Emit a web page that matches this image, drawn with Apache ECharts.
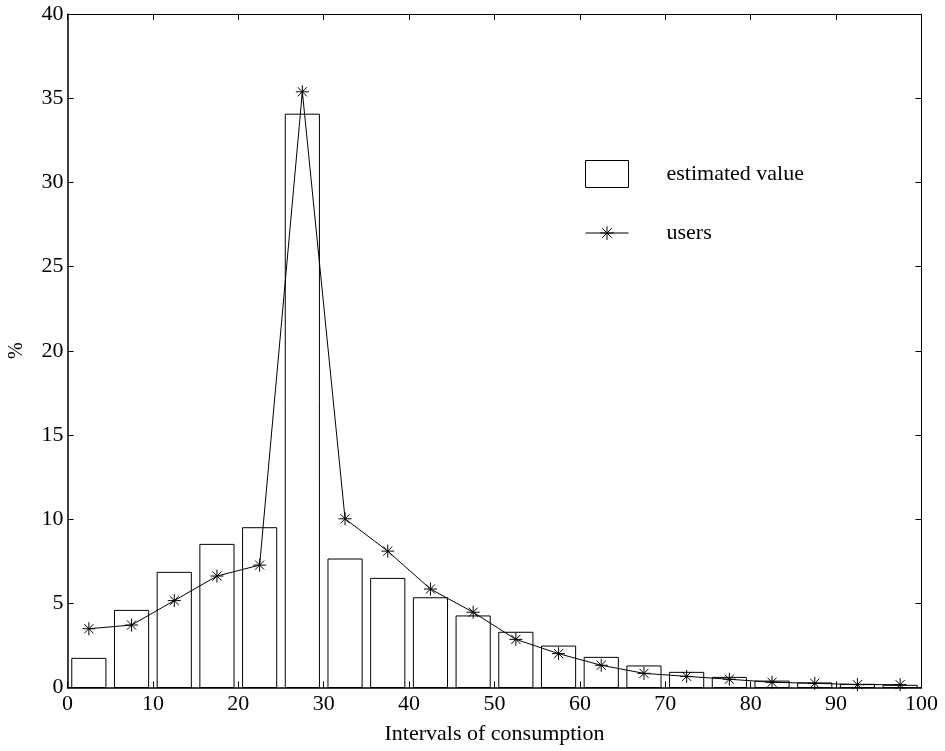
<!DOCTYPE html>
<html>
<head>
<meta charset="utf-8">
<script src="https://cdn.jsdelivr.net/npm/echarts@6/dist/echarts.min.js"></script>
<style>
html,body{margin:0;padding:0;background:#fff;}
#main{width:945px;height:751px;}
</style>
</head>
<body>
<div id="main"></div>
<script>
// bin centres of the consumption intervals
var binCenters = [2.5, 7.5, 12.5, 17.5, 22.5, 27.5, 32.5, 37.5, 42.5, 47.5,
                  52.5, 57.5, 62.5, 67.5, 72.5, 77.5, 82.5, 87.5, 92.5, 97.5];
var estimated = [1.73, 4.58, 6.84, 8.50, 9.49, 34.05, 7.63, 6.48, 5.33, 4.25,
                 3.28, 2.46, 1.79, 1.28, 0.90, 0.60, 0.38, 0.27, 0.19, 0.13];
var users = [3.49, 3.71, 5.16, 6.62, 7.27, 35.38, 10.02, 8.10, 5.85, 4.47,
             2.86, 2.01, 1.32, 0.84, 0.66, 0.49, 0.31, 0.25, 0.17, 0.17];
var barWidthUnits = 4;

var star = 'path://M0,-6L0,6M-6,0L6,0M-4.2,-4.2L4.2,4.2M-4.2,4.2L4.2,-4.2';
var font = 'Liberation Serif';

var barData = [], lineData = [];
for (var i = 0; i < binCenters.length; i++) {
  barData.push([binCenters[i], estimated[i]]);
  lineData.push([binCenters[i], users[i]]);
}

var chart = echarts.init(document.getElementById('main'));
var tickCommon = {inside: true, length: 6, lineStyle: {color: '#000', width: 1}};
var option = {
  backgroundColor: '#fff',
  animation: false,
  grid: {left: 67.5, right: 23.5, top: 14, bottom: 63.5, containLabel: false, outerBoundsMode: 'none'},
  legend: [{
    data: [{name: 'estimated value', icon: 'rect',
            itemStyle: {color: '#fff', borderColor: '#000', borderWidth: 1}}],
    left: 580, top: 155,
    itemWidth: 43, itemHeight: 27,
    textStyle: {fontFamily: font, fontSize: 22, color: '#000', padding: [0, 0, 0, 33]},
    selectedMode: false
  }, {
    data: [{name: 'users',
            itemStyle: {color: 'none', borderColor: '#000', borderWidth: 1},
            lineStyle: {color: '#000', width: 1}}],
    left: 580, top: 217,
    itemWidth: 43, itemHeight: 17,
    textStyle: {fontFamily: font, fontSize: 22, color: '#000', padding: [0, 0, 0, 33]},
    selectedMode: false
  }],
  xAxis: [{
    type: 'value', min: 0, max: 100, interval: 10, position: 'bottom',
    name: 'Intervals of consumption', nameLocation: 'middle', nameGap: 36,
    nameTextStyle: {fontFamily: font, fontSize: 22, color: '#000'},
    axisLine: {onZero: false, lineStyle: {color: '#000', width: 1.5}},
    axisTick: tickCommon,
    axisLabel: {fontFamily: font, fontSize: 22, color: '#000', margin: 6},
    splitLine: {show: false}
  }, {
    type: 'value', min: 0, max: 100, interval: 10, position: 'top',
    axisLine: {onZero: false, lineStyle: {color: '#000', width: 1}},
    axisTick: tickCommon,
    axisLabel: {show: false},
    splitLine: {show: false}
  }],
  yAxis: [{
    type: 'value', min: 0, max: 40, interval: 5, position: 'left',
    name: '%', nameLocation: 'middle', nameGap: 41, nameRotate: 90,
    nameTextStyle: {fontFamily: font, fontSize: 20, color: '#000'},
    axisLine: {onZero: false, lineStyle: {color: '#000', width: 1.5}},
    axisTick: tickCommon,
    axisLabel: {fontFamily: font, fontSize: 22, color: '#000', margin: 4},
    splitLine: {show: false}
  }, {
    type: 'value', min: 0, max: 40, interval: 5, position: 'right',
    axisLine: {onZero: false, lineStyle: {color: '#000', width: 1}},
    axisTick: tickCommon,
    axisLabel: {show: false},
    splitLine: {show: false}
  }],
  series: [{
    name: 'estimated value',
    type: 'custom',
    xAxisIndex: 0, yAxisIndex: 0,
    itemStyle: {color: '#fff', borderColor: '#000', borderWidth: 1},
    renderItem: function (params, api) {
      var x = api.value(0), y = api.value(1);
      var p0 = api.coord([x - barWidthUnits / 2, y]);
      var p1 = api.coord([x + barWidthUnits / 2, 0]);
      return {
        type: 'rect',
        shape: {x: p0[0], y: p0[1], width: p1[0] - p0[0], height: p1[1] - p0[1]},
        style: {fill: '#fff', stroke: '#000', lineWidth: 1}
      };
    },
    data: barData,
    z: 1
  }, {
    name: 'users',
    type: 'line',
    xAxisIndex: 0, yAxisIndex: 0,
    data: lineData,
    symbol: star,
    symbolSize: 13,
    showAllSymbol: true,
    lineStyle: {color: '#000', width: 1},
    itemStyle: {color: 'none', borderColor: '#000', borderWidth: 1},
    z: 3
  }]
};
chart.setOption(option);
</script>
</body>
</html>
